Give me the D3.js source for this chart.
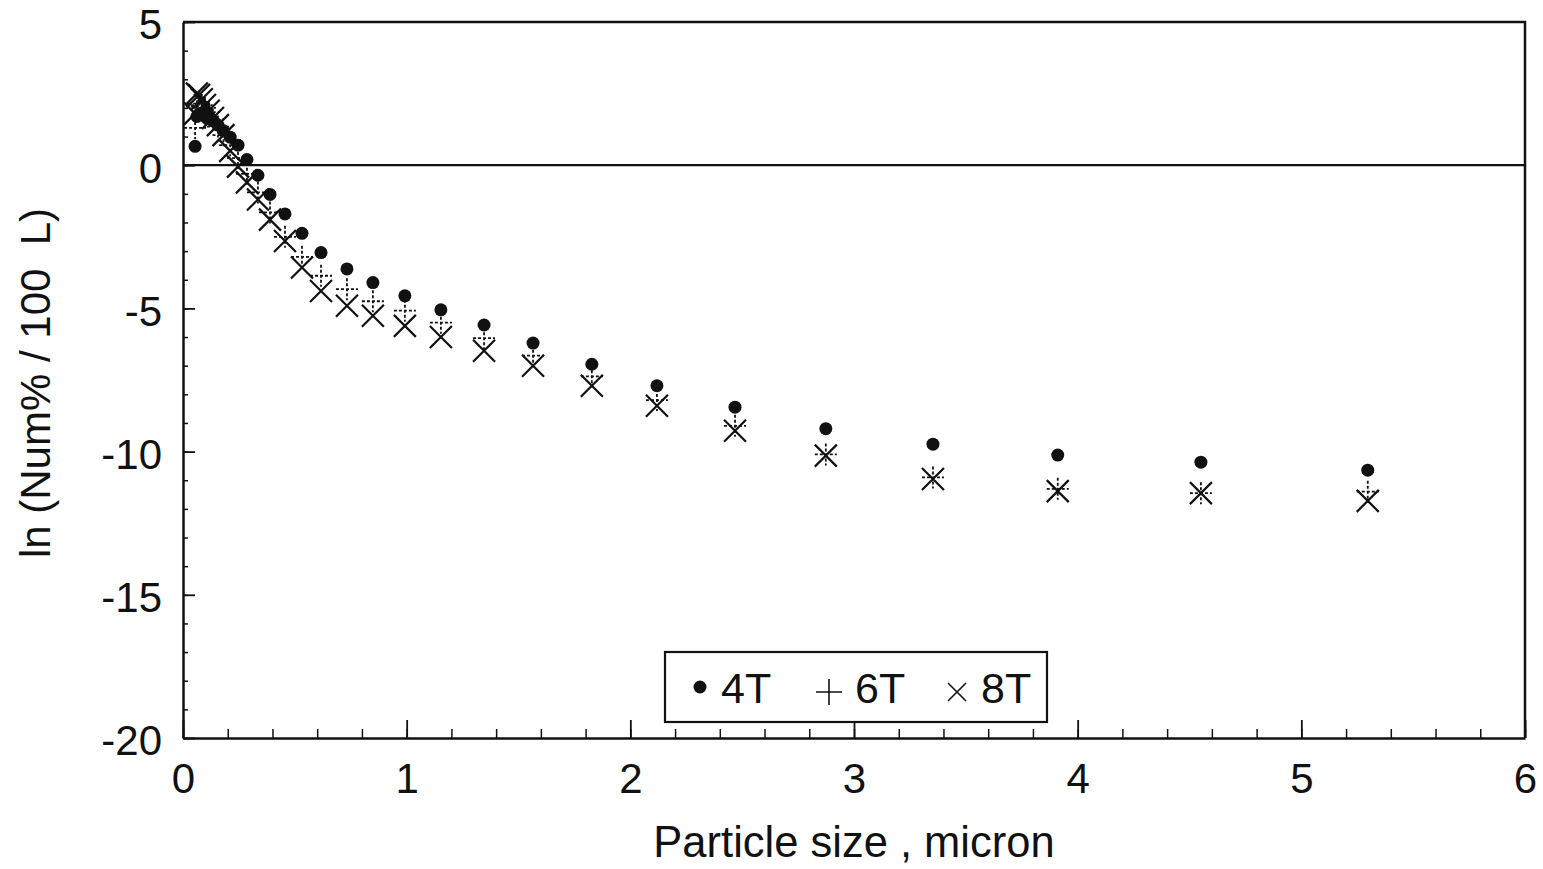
<!DOCTYPE html>
<html>
<head>
<meta charset="utf-8">
<script src="https://cdn.jsdelivr.net/npm/d3@7"></script>
<style>
    body { margin: 0; background: #fff; }
    svg { font-family: "Liberation Sans", Arial, sans-serif; }
    .axis path, .axis line { stroke: #111; }
    .axis text { font-size: 42px; fill: #111; }
</style>
</head>
<body>
<svg id="chart"></svg>
<script>
// particle size bins (micron)
const sizes = [0.054, 0.062, 0.072, 0.084, 0.098, 0.115, 0.134, 0.156, 0.181, 0.211,
    0.246, 0.286, 0.335, 0.389, 0.456, 0.532, 0.617, 0.733, 0.849, 0.992,
    1.153, 1.346, 1.565, 1.828, 2.119, 2.468, 2.874, 3.353, 3.911, 4.551, 5.297];

const series4T = [0.66, 1.7, 1.78, 1.8, 1.75, 1.68, 1.55, 1.4, 1.2, 0.98,
    0.7, 0.2, -0.35, -1.02, -1.7, -2.38, -3.05, -3.62, -4.1, -4.56,
    -5.05, -5.58, -6.21, -6.95, -7.7, -8.45, -9.2, -9.74, -10.12, -10.37, -10.65];

const series6T = [1.3, 2.05, 2.15, 2.1, 2.0, 1.85, 1.6, 1.35, 1.05, 0.7,
    0.25, -0.3, -0.95, -1.65, -2.5, -3.2, -3.86, -4.33, -4.75, -5.08,
    -5.5, -6.04, -6.65, -7.37, -8.2, -9.1, -10.1, -10.9, -11.3, -11.45, -11.4];

const series8T = [1.8, 2.5, 2.45, 2.3, 2.1, 1.9, 1.65, 1.4, 1.05, 0.5,
    -0.05, -0.6, -1.2, -1.9, -2.65, -3.57, -4.39, -4.91, -5.26, -5.61,
    -6.0, -6.48, -7.0, -7.7, -8.4, -9.27, -10.14, -10.96, -11.38, -11.45, -11.72];

const seriesNames = ['4T', '6T', '8T'];
const xTicks = [0, 1, 2, 3, 4, 5, 6];
const yTicks = [5, 0, -5, -10, -15, -20];

class ScatterChart {

    constructor(_config) {
        this.config = {
            parentElement: _config.parentElement,
            containerWidth: 1543,
            containerHeight: 869,
            margin: {top: 22, right: 18, bottom: 131, left: 183}
        }
        this.initVis();
    }

    initVis() {
        let vis = this;

        vis.width = vis.config.containerWidth - vis.config.margin.left - vis.config.margin.right;
        vis.height = vis.config.containerHeight - vis.config.margin.top - vis.config.margin.bottom;

        vis.xScale = d3.scaleLinear().domain([0, 6]).range([0, vis.width]);
        vis.yScale = d3.scaleLinear().domain([-20, 5]).range([vis.height, 0]);

        vis.svg = d3.select(vis.config.parentElement)
            .attr('width', vis.config.containerWidth)
            .attr('height', vis.config.containerHeight);

        vis.chart = vis.svg.append('g')
            .attr('transform', `translate(${vis.config.margin.left},${vis.config.margin.top})`);

        vis.renderVis();
    }

    renderVis() {
        let vis = this;

        // minor ticks first (no labels)
        vis.chart.append('g')
            .attr('class', 'axis')
            .attr('transform', `translate(0,${vis.height})`)
            .call(d3.axisBottom(vis.xScale).tickValues(d3.range(0, 6.01, 0.2)).tickSize(-9).tickFormat(''))
            .call(g => g.select('.domain').remove())
            .selectAll('line').attr('stroke-width', 1.5);

        vis.chart.append('g')
            .attr('class', 'axis')
            .call(d3.axisLeft(vis.yScale).tickValues(d3.range(-20, 5.01, 1)).tickSize(-5).tickFormat(''))
            .call(g => g.select('.domain').remove())
            .selectAll('line').attr('stroke-width', 1.5);

        // major axes
        vis.chart.append('g')
            .attr('class', 'axis')
            .attr('transform', `translate(0,${vis.height})`)
            .call(d3.axisBottom(vis.xScale).tickValues(xTicks).tickSize(-18).tickSizeOuter(0)
                .tickPadding(25).tickFormat(d => String(d)))
            .call(g => g.select('.domain').attr('stroke-width', 2.5))
            .call(g => g.selectAll('line').attr('stroke-width', 1.8));

        vis.chart.append('g')
            .attr('class', 'axis')
            .call(d3.axisLeft(vis.yScale).tickValues(yTicks).tickSize(-12).tickSizeOuter(0)
                .tickPadding(21).tickFormat(d => String(d)))
            .call(g => g.select('.domain').attr('stroke-width', 2.5))
            .call(g => g.selectAll('line').attr('stroke-width', 1.8))
            .call(g => g.selectAll('text').attr('dy', '0.4em'));

        // top and right frame
        vis.chart.append('path')
            .attr('d', `M0,0H${vis.width}V${vis.height}`)
            .attr('fill', 'none')
            .attr('stroke', '#111')
            .attr('stroke-width', 2.5);

        // zero line
        vis.chart.append('line')
            .attr('x1', 0).attr('x2', vis.width)
            .attr('y1', vis.yScale(0)).attr('y2', vis.yScale(0))
            .attr('stroke', '#111')
            .attr('stroke-width', 2.2);

        // axis titles
        vis.svg.append('text')
            .attr('x', 854).attr('y', 857)
            .attr('text-anchor', 'middle')
            .attr('font-size', 43.5)
            .attr('fill', '#111')
            .text('Particle size , micron');

        vis.svg.append('text')
            .attr('transform', 'translate(50,383) rotate(-90)')
            .attr('text-anchor', 'middle')
            .attr('font-size', 42)
            .attr('fill', '#111')
            .attr('xml:space', 'preserve')
            .style('white-space', 'pre')
            .text('ln (Num% / 100  L)');

        let pts = (ys) => sizes.map((s, i) => ({x: s, y: ys[i]}));

        // 8T crosses
        vis.chart.append('g').selectAll('path')
            .data(pts(series8T))
            .join('path')
            .attr('transform', d => `translate(${vis.xScale(d.x)},${vis.yScale(d.y)})`)
            .attr('d', 'M-11,-11L11,11M-11,11L11,-11')
            .attr('stroke', '#111')
            .attr('stroke-width', 2.2)
            .attr('fill', 'none');

        // 6T plus
        vis.chart.append('g').selectAll('path')
            .data(pts(series6T))
            .join('path')
            .attr('transform', d => `translate(${vis.xScale(d.x)},${vis.yScale(d.y)})`)
            .attr('d', 'M-11,0H11M0,-11V11')
            .attr('stroke', '#111')
            .attr('stroke-width', 1.8)
            .attr('stroke-dasharray', '3,2')
            .attr('fill', 'none');

        // 4T dots
        vis.chart.append('g').selectAll('circle')
            .data(pts(series4T))
            .join('circle')
            .attr('cx', d => vis.xScale(d.x))
            .attr('cy', d => vis.yScale(d.y))
            .attr('r', 6.5)
            .attr('fill', '#111');

        // legend
        let legend = vis.svg.append('g');
        legend.append('rect')
            .attr('x', 665).attr('y', 652)
            .attr('width', 382).attr('height', 70)
            .attr('fill', '#fff')
            .attr('stroke', '#111')
            .attr('stroke-width', 2.2);

        legend.append('circle').attr('cx', 700).attr('cy', 687).attr('r', 6.5).attr('fill', '#111');
        legend.append('path').attr('d', 'M816,692H842M829,679V705')
            .attr('stroke', '#111').attr('stroke-width', 1.6);
        legend.append('path').attr('d', 'M948,683L966,701M948,701L966,683')
            .attr('stroke', '#111').attr('stroke-width', 1.6);

        let labelX = [721, 855, 981];
        legend.selectAll('text')
            .data(seriesNames)
            .join('text')
            .attr('x', (d, i) => labelX[i])
            .attr('y', 703)
            .attr('font-size', 43)
            .attr('fill', '#111')
            .text(d => d);
    }
}

new ScatterChart({parentElement: '#chart'});
</script>
</body>
</html>
